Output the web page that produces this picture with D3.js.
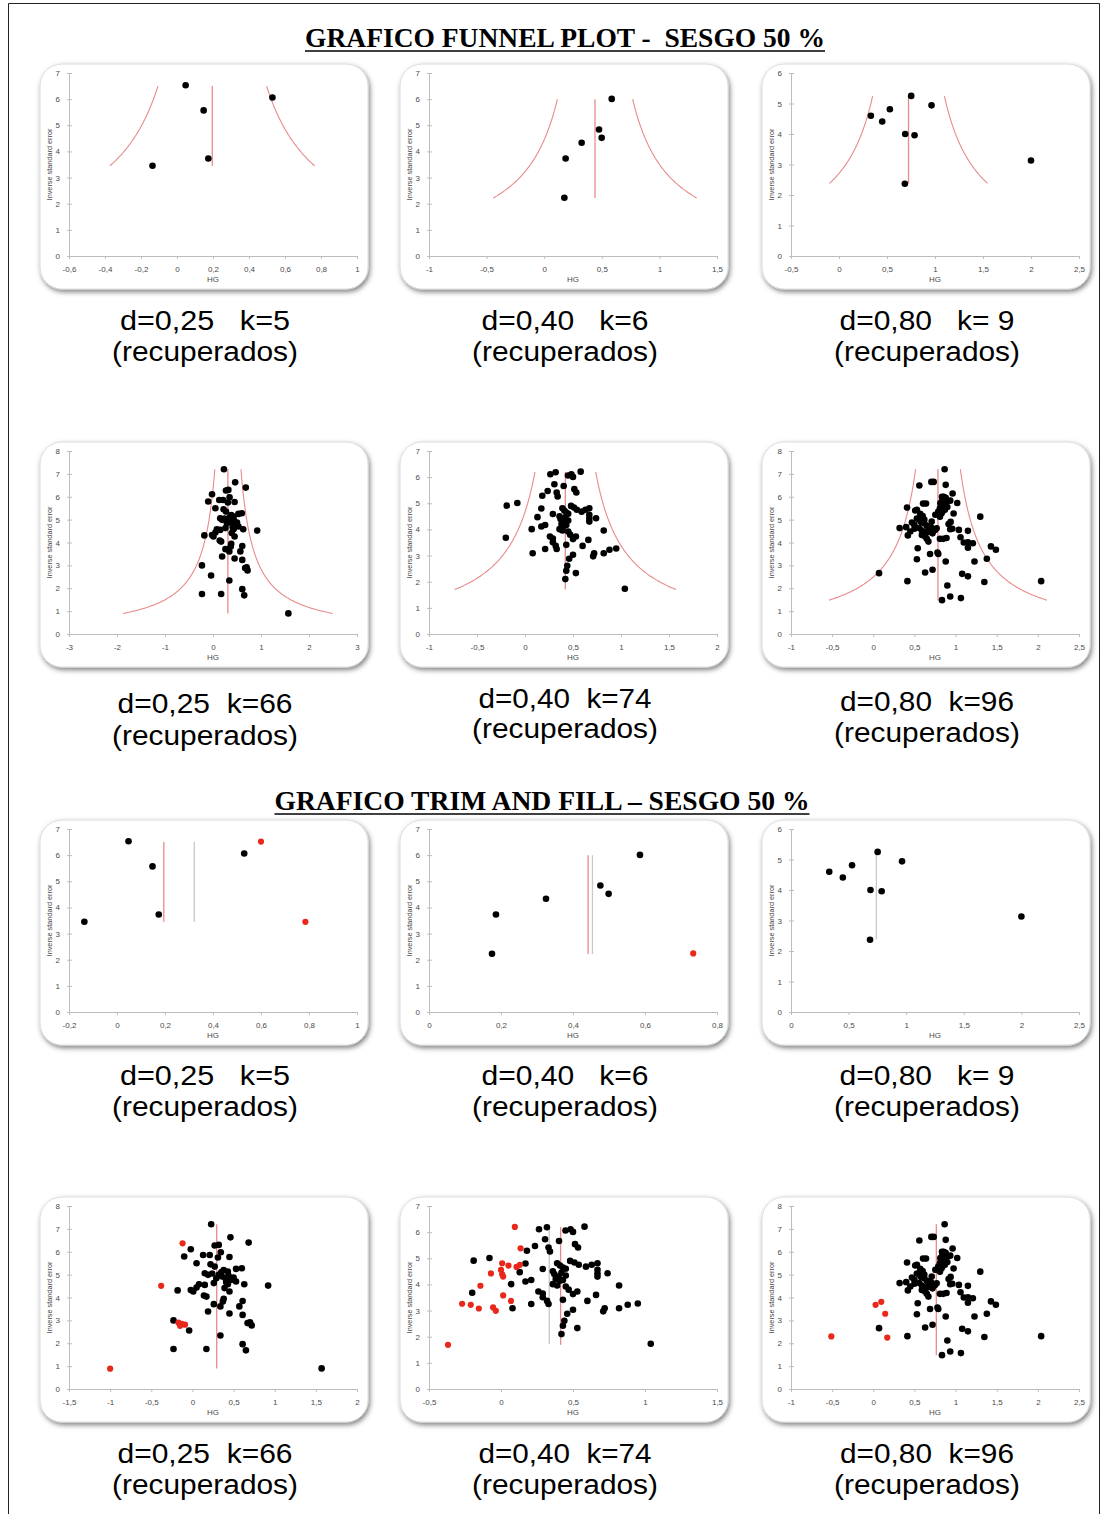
<!DOCTYPE html>
<html><head><meta charset="utf-8">
<script src="https://cdn.jsdelivr.net/npm/d3@7"></script>
<style>body{margin:0;background:#fff} svg{display:block}</style>
</head><body><svg id="c" width="1108" height="1514"></svg>
<script>
// ---------- DATA ----------
const titles = ["GRAFICO FUNNEL PLOT -  SESGO 50 %", "GRAFICO TRIM AND FILL \u2013 SESGO 50 %"];
const captionTop = ["d=0,25   k=5","d=0,40   k=6","d=0,80   k= 9","d=0,25  k=66","d=0,40  k=74","d=0,80  k=96",
                    "d=0,25   k=5","d=0,40   k=6","d=0,80   k= 9","d=0,25  k=66","d=0,40  k=74","d=0,80  k=96"];
const captionBottom = "(recuperados)";

// studies: [HG, inverse standard error]
const k5 = [[-0.136,3.45],[0.048,6.53],[0.148,5.57],[0.174,3.73],[0.530,6.06]];
const k6 = [[0.175,2.23],[0.186,3.73],[0.325,4.33],[0.476,4.84],[0.499,4.52],[0.586,6.01]];
const k9 = [[0.332,4.60],[0.450,4.41],[0.530,4.81],[0.752,5.25],[0.69,4.0],[0.787,3.96],[0.964,4.94],[0.686,2.37],[2.0,3.13]];
const k66 = [[0.228,7.2],[0.462,6.63],[0.683,6.4],[0.27,6.27],[0.32,6.3],[-0.02,6.11],[0.345,5.98],[-0.10,5.79],[0.13,5.86],[0.21,5.86],
  [0.31,5.75],[0.45,5.77],[0.05,5.5],[0.22,5.45],[0.27,5.35],[0.53,5.25],[0.6,5.28],[0.38,5.2],[0.43,5.13],[0.15,5.06],
  [0.19,4.99],[0.32,4.99],[0.36,4.92],[0.29,4.84],[0.5,4.87],[0.47,4.77],[0.53,4.7],[0.41,4.67],[0.43,4.58],[0.26,4.63],
  [0.08,4.58],[0.15,4.55],[0.05,4.44],[0.63,4.58],[0.92,4.52],[0.39,4.41],[0.45,4.26],[-0.18,4.31],[-0.02,4.33],[0.01,4.26],
  [0.14,4.09],[0.17,4.04],[0.38,3.94],[0.37,3.83],[0.61,3.85],[0.26,3.71],[0.34,3.61],[0.57,3.61],[0.19,3.39],[0.45,3.3],
  [0.61,3.24],[-0.23,3.0],[0.67,2.88],[0.72,2.78],[0.7,2.92],[-0.04,2.56],[0.34,2.34],[0.61,1.96],[-0.23,1.75],[0.17,1.75],
  [0.65,1.69],[1.57,0.9],[0.35,5.1],[0.40,4.85],[0.24,5.05],[0.44,4.95]];
const k74 = [[0.264,6.11],[0.319,6.19],[0.448,6.06],[0.483,6.11],[0.5,6.01],[0.58,6.21],[0.306,5.73],[0.403,5.66],[0.514,5.54],[0.535,5.41],
  [0.236,5.47],[0.33,5.41],[0.34,5.26],[0.18,5.29],[-0.19,4.91],[-0.08,5.01],[0.17,4.80],[0.29,4.59],[0.39,4.81],[0.41,4.72],
  [0.43,4.65],[0.48,4.9],[0.51,4.84],[0.54,4.75],[0.59,4.68],[0.63,4.75],[0.67,4.81],[0.67,4.56],[0.67,4.43],[0.67,4.3],
  [0.74,4.43],[0.13,4.47],[0.37,4.4],[0.40,4.3],[0.38,4.21],[0.41,4.14],[0.45,4.34],[0.43,4.17],[0.21,4.17],[0.17,4.11],
  [0.07,4.01],[0.36,4.01],[0.39,3.96],[0.45,3.92],[0.82,3.96],[-0.2,3.68],[0.26,3.73],[0.29,3.65],[0.53,3.73],[0.5,3.63],
  [0.66,3.6],[0.29,3.51],[0.32,3.37],[0.33,3.25],[0.43,3.41],[0.6,3.37],[0.21,3.25],[0.08,3.09],[0.5,3.03],[0.72,3.09],
  [0.71,2.97],[0.82,3.09],[0.88,3.22],[0.95,3.27],[0.46,2.88],[0.44,2.61],[0.43,2.42],[0.53,2.33],[0.42,2.1],[1.04,1.73],
  [0.36,4.5],[0.42,4.45],[0.45,4.6],[0.47,3.8]];
const k96 = [[0.867,7.2],[0.706,6.65],[0.734,6.65],[0.56,6.49],[0.88,6.52],[0.835,6.0],[0.855,6.0],[0.964,6.14],[0.605,5.7],[0.641,5.7],
  [0.895,5.79],[0.935,5.83],[1.02,5.73],[0.815,5.72],[0.41,5.53],[0.51,5.4],[0.53,5.43],[0.81,5.5],[0.79,5.35],[0.83,5.28],
  [0.87,5.43],[0.976,5.27],[0.57,5.25],[0.6,5.16],[0.754,5.21],[0.81,5.13],[1.3,5.13],[0.53,5.05],[0.56,4.99],[0.47,4.87],
  [0.5,4.77],[0.62,4.84],[0.65,4.73],[0.71,4.92],[0.94,4.9],[0.915,4.81],[0.4,4.67],[0.32,4.63],[0.56,4.63],[0.59,4.52],
  [0.625,4.44],[0.67,4.58],[0.70,4.67],[0.73,4.52],[0.75,4.55],[0.935,4.58],[1.04,4.55],[1.15,4.51],[0.45,4.48],[0.42,4.31],
  [0.59,4.33],[0.63,4.26],[0.65,4.16],[0.67,4.04],[0.81,4.16],[0.85,4.16],[0.89,4.2],[1.06,4.23],[1.1,4.0],[1.15,4.01],
  [1.21,3.97],[1.15,3.77],[0.54,3.75],[0.78,3.56],[0.79,3.5],[0.69,3.5],[1.43,3.83],[1.49,3.68],[1.38,3.29],[0.53,3.27],
  [0.88,3.17],[1.23,3.17],[0.72,2.81],[0.63,2.69],[0.07,2.66],[1.08,2.63],[1.15,2.52],[0.415,2.31],[1.35,2.27],[2.04,2.31],
  [0.9,2.12],[0.935,1.64],[1.065,1.57],[0.835,1.48],[0.86,5.6],[0.9,5.55],[0.84,5.85],[0.88,5.95],[0.58,4.9],[0.66,4.45],
  [0.72,4.4],[0.62,5.0],[0.77,4.62],[0.5,4.6],[0.96,4.6],[0.84,5.35]];

// imputed (trim and fill) studies
const fill5 = [[0.60,6.52],[0.785,3.45]];
const fill6 = [[0.734,2.24]];
const fill9 = [];
const fill66 = [[-0.12,6.37],[-0.38,4.51],[-0.17,2.9],[-0.15,2.76],[-0.09,2.81],[-0.13,2.85],[-1.0,0.89]];
const fill74 = [[0.096,6.2],[0.136,5.38],[0.008,4.81],[0.052,4.72],[0.108,4.67],[0.131,4.75],[-0.07,4.42],[0.0,4.56],[0.008,4.39],[0.015,4.3],
  [-0.143,3.95],[0.015,3.58],[-0.27,3.26],[-0.21,3.22],[-0.154,3.08],[-0.055,3.12],[-0.036,2.99],[0.069,3.37],[-0.368,1.69]];
const fill96 = [[0.028,3.68],[0.097,3.81],[0.145,3.29],[0.17,2.25],[-0.51,2.30]];

// axis ticks
const xt1 = [-0.6,-0.4,-0.2,0,0.2,0.4,0.6,0.8,1];
const xt2 = [-1,-0.5,0,0.5,1,1.5];
const xt3 = [-0.5,0,0.5,1,1.5,2,2.5];
const xt4 = [-3,-2,-1,0,1,2,3];
const xt5 = [-1,-0.5,0,0.5,1,1.5,2];
const xt6 = [-1,-0.5,0,0.5,1,1.5,2,2.5];
const xt7 = [-0.2,0,0.2,0.4,0.6,0.8,1];
const xt8 = [0,0.2,0.4,0.6,0.8];
const xt9 = [0,0.5,1,1.5,2,2.5];
const xt10 = [-1.5,-1,-0.5,0,0.5,1,1.5,2];
const xt11 = [-0.5,0,0.5,1,1.5];
const xt12 = [-1,-0.5,0,0.5,1,1.5,2,2.5];

// pooled estimates: [HG, min ISE, max ISE]
const est1=[0.196,3.45,6.5], est2=[0.441,2.22,6.0], est3=[0.724,2.38,5.24];
const est4=[0.31,0.9,7.2], est5=[0.42,1.7,6.2], est6=[0.786,1.48,7.2];

const panels = [
  {pts:k5, fill:[], xt:xt1, ymax:7, funnel:est1},
  {pts:k6, fill:[], xt:xt2, ymax:7, funnel:est2},
  {pts:k9, fill:[], xt:xt3, ymax:6, funnel:est3},
  {pts:k66, fill:[], xt:xt4, ymax:8, funnel:est4},
  {pts:k74, fill:[], xt:xt5, ymax:7, funnel:est5},
  {pts:k96, fill:[], xt:xt6, ymax:8, funnel:est6},
  {pts:k5, fill:fill5, xt:xt7, ymax:7, lines:[["g",0.322,3.45,6.5],["r",0.195,3.45,6.5]]},
  {pts:k6, fill:fill6, xt:xt8, ymax:7, lines:[["g",0.454,2.22,6.0],["r",0.442,2.22,6.0]]},
  {pts:k9, fill:fill9, xt:xt9, ymax:6, lines:[["g",0.741,2.38,5.24]]},
  {pts:k66, fill:fill66, xt:xt10, ymax:8, lines:[["r",0.295,0.9,7.2]]},
  {pts:k74, fill:fill74, xt:xt11, ymax:7, lines:[["g",0.335,1.72,6.2],["r",0.414,1.69,6.2]]},
  {pts:k96, fill:fill96, xt:xt12, ymax:8, lines:[["r",0.766,1.48,7.2]]}
];

// ---------- LAYOUT ----------
const colX = [40,400,762], rowY = [64,442,820,1197];
const boxW = 328, boxH = 225;
const capCenter = [[322,352],[322,352],[322,352],[703,738],[699,730],[703,733],
  [1077,1107],[1077,1107],[1077,1107],[1455,1485],[1455,1485],[1455,1485]];
const capTopW = [170,167,175,175,173,174,170,167,175,175,173,174];
const capBotW = 186;
const CAP_FS = 27;
const RED = "#e98a8a", GRAY = "#c8c8c8";
const fmt = v => String(+v.toFixed(1)).replace(".", ",");

const svg = d3.select("#c");
const defs = svg.append("defs");
const f = defs.append("filter").attr("id","sh").attr("x","-10%").attr("y","-10%").attr("width","125%").attr("height","130%");
f.append("feDropShadow").attr("dx",1.5).attr("dy",2.5).attr("stdDeviation",2.5).attr("flood-color","#000").attr("flood-opacity",0.5);

// page frame
svg.append("path").attr("d","M8.5,1514 V3.5 H1099.5 V1514").attr("fill","none").attr("stroke","#222").attr("stroke-width",1);

// titles
[[titles[0],565,47,520],[titles[1],542,810,535]].forEach(([t,cx,by,w])=>{
  svg.append("text").attr("x",cx).attr("y",by).attr("text-anchor","middle")
    .attr("font-family","Liberation Serif, serif").attr("font-weight","bold").attr("font-size",27)
    .attr("textLength",w).attr("lengthAdjust","spacingAndGlyphs").style("white-space","pre").text(t);
  svg.append("line").attr("x1",cx-w/2).attr("x2",cx+w/2).attr("y1",by+4).attr("y2",by+4).attr("stroke","#000").attr("stroke-width",1.6);
});

panels.forEach((p,i)=>{
  const col = i%3, row = Math.floor(i/3);
  const bx = colX[col], by = rowY[row];
  const g = svg.append("g");
  g.append("rect").attr("x",bx).attr("y",by).attr("width",boxW).attr("height",boxH).attr("rx",22)
    .attr("fill","#fff").attr("stroke","#dcdcdc").attr("filter","url(#sh)");
  const x = d3.scaleLinear().domain([p.xt[0], p.xt[p.xt.length-1]]).range([bx+29, bx+317]);
  const y = d3.scaleLinear().domain([0,p.ymax]).range([by+192, by+9]);

  const ax = g.append("g").attr("transform",`translate(0,${by+192})`)
    .call(d3.axisBottom(x).tickValues(p.xt).tickFormat(fmt).tickSizeInner(3).tickSizeOuter(0).tickPadding(7));
  const ay = g.append("g").attr("transform",`translate(${bx+29},0)`)
    .call(d3.axisLeft(y).tickValues(d3.range(0,p.ymax+1)).tickFormat(d3.format("d")).tickSizeInner(3).tickSizeOuter(0).tickPadding(6));
  [ax,ay].forEach(a=>{
    a.select(".domain").attr("stroke","#bdbdbd");
    a.selectAll(".tick line").attr("stroke","#bdbdbd");
    a.selectAll("text").attr("font-family","Liberation Sans, Arial, sans-serif").attr("font-size",8).attr("fill","#4a4a4a");
  });
  ay.selectAll(".tick line").attr("x1",-2).attr("x2",3);

  g.append("text").attr("transform",`translate(${bx+12},${by+100.5}) rotate(-90)`).attr("text-anchor","middle")
    .attr("font-family","Liberation Sans, Arial, sans-serif").attr("font-size",7.3).attr("fill","#444").text("Inverse standard error");
  g.append("text").attr("x",(x.range()[0]+x.range()[1])/2).attr("y",by+218).attr("text-anchor","middle")
    .attr("font-family","Liberation Sans, Arial, sans-serif").attr("font-size",8).attr("fill","#4a4a4a").text("HG");

  if (p.funnel) {
    const [m,y0,y1] = p.funnel;
    const ys = d3.range(y0, y1, 0.02).concat([y1]);
    const lineL = d3.line().x(s=>x(m-1.96/s)).y(s=>y(s));
    const lineR = d3.line().x(s=>x(m+1.96/s)).y(s=>y(s));
    g.append("path").attr("d",lineL(ys)).attr("fill","none").attr("stroke",RED).attr("stroke-width",1.1);
    g.append("path").attr("d",lineR(ys)).attr("fill","none").attr("stroke",RED).attr("stroke-width",1.1);
    g.append("line").attr("x1",x(m)).attr("x2",x(m)).attr("y1",y(y0)).attr("y2",y(y1)).attr("stroke",RED).attr("stroke-width",1.3);
  }
  (p.lines||[]).forEach(([c,m,y0,y1])=>{
    g.append("line").attr("x1",x(m)).attr("x2",x(m)).attr("y1",y(y0)).attr("y2",y(y1))
      .attr("stroke",c==="r"?RED:GRAY).attr("stroke-width",1.3);
  });
  g.selectAll("circle.s").data(p.pts).join("circle").attr("class","s")
    .attr("cx",d=>x(d[0])).attr("cy",d=>y(d[1])).attr("r",3.3).attr("fill","#000");
  g.selectAll("circle.f").data(p.fill).join("circle").attr("class","f")
    .attr("cx",d=>x(d[0])).attr("cy",d=>y(d[1])).attr("r",3.1).attr("fill","#e8281a");

  // captions: baselines from visual centres, spread apart just enough so the lines do not overlap
  let b1 = capCenter[i][0] + 0.36*CAP_FS, b2 = capCenter[i][1] + 0.26*CAP_FS;
  const need = 1.13*CAP_FS;
  if (b2 - b1 < need) { const d = (need - (b2 - b1))/2; b1 -= d; b2 += d; }
  const cx = bx + boxW/2 + 1;
  g.append("text").attr("x",cx).attr("y",b1).attr("text-anchor","middle").style("white-space","pre")
    .attr("font-family","Liberation Sans, Arial, sans-serif").attr("font-size",CAP_FS).attr("fill","#000")
    .attr("textLength",capTopW[i]).attr("lengthAdjust","spacingAndGlyphs").text(captionTop[i]);
  g.append("text").attr("x",cx).attr("y",b2).attr("text-anchor","middle")
    .attr("font-family","Liberation Sans, Arial, sans-serif").attr("font-size",CAP_FS).attr("fill","#000")
    .attr("textLength",capBotW).attr("lengthAdjust","spacingAndGlyphs").text(captionBottom);
});
</script></body></html>
